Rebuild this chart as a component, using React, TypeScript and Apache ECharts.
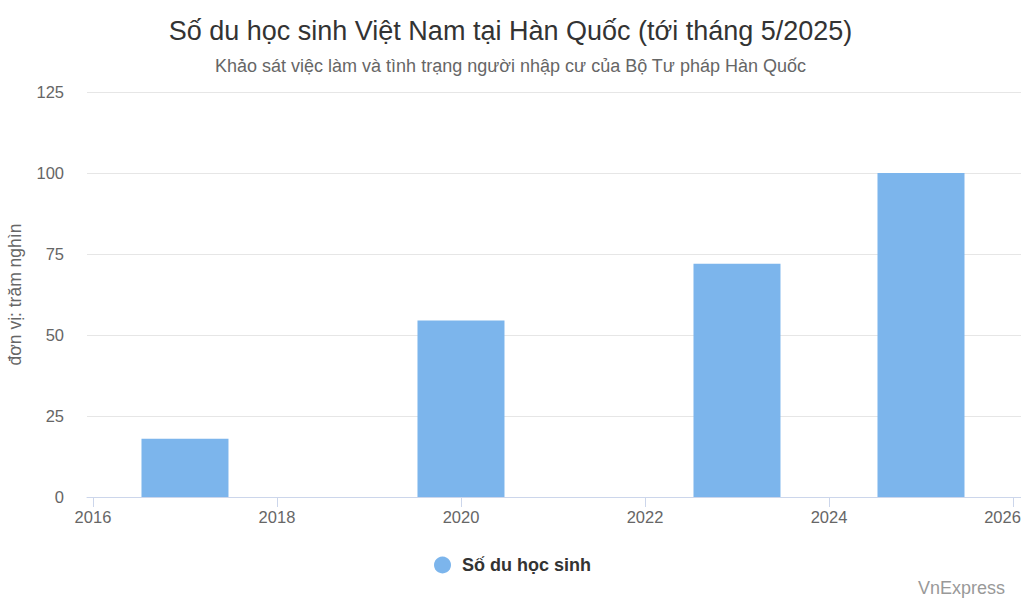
import React, { useEffect, useRef } from "react";
import * as echarts from "echarts";

const years = [2017, 2020, 2023, 2025];
const students = [18, 54.5, 72, 100];
const xTicks = [2016, 2018, 2020, 2022, 2024, 2026];
// the last label is pulled inward to stay inside the chart, as in the reference
const xLabelPositions = [2016, 2018, 2020, 2022, 2024, 2025.886];
const yTicks = [0, 25, 50, 75, 100, 125];

const titleText = "Số du học sinh Việt Nam tại Hàn Quốc (tới tháng 5/2025)";
const subtitleText = "Khảo sát việc làm và tình trạng người nhập cư của Bộ Tư pháp Hàn Quốc";
const seriesName = "Số du học sinh";
const yAxisTitle = "đơn vị: trăm nghìn";
const creditText = "VnExpress";

const FONT = "'Liberation Sans', Arial, Helvetica, sans-serif";

export default function App() {
  const ref = useRef<HTMLDivElement>(null);
  useEffect(() => {
    if (!ref.current) return;
    const chart = echarts.init(ref.current, null, { renderer: "svg" });
    chart.setOption({
      animation: false,
      backgroundColor: "#ffffff",
      textStyle: { fontFamily: FONT },
      title: [
        {
          text: titleText,
          left: "center",
          top: 12,
          textStyle: { fontSize: 27, fontWeight: "normal", color: "#333333", fontFamily: FONT },
        },
        {
          text: subtitleText,
          left: "center",
          top: 52,
          textStyle: { fontSize: 18, fontWeight: "normal", color: "#666666", fontFamily: FONT },
        },
      ],
      legend: {
        left: 429,
        top: 551,
        icon: "circle",
        itemWidth: 17,
        itemHeight: 17,
        itemGap: 10,
        textStyle: {
          fontSize: 18,
          fontWeight: "bold",
          color: "#333333",
          fontFamily: FONT,
          padding: [0, 0, 0, 6],
        },
        data: [seriesName],
      },
      grid: {
        left: 87,
        right: 0,
        top: 92,
        bottom: 105,
        containLabel: false,
        outerBoundsMode: "none",
      },
      xAxis: {
        type: "value",
        min: 2015.935,
        max: 2026.087,
        splitLine: { show: false },
        axisLine: { show: true, lineStyle: { color: "#ccd6eb", width: 1 } },
        axisTick: {
          show: true,
          length: 10,
          inside: false,
          customValues: xTicks,
          lineStyle: { color: "#ccd6eb" },
        },
        axisLabel: {
          customValues: xLabelPositions,
          fontSize: 16.5,
          color: "#666666",
          margin: 11,
          fontFamily: FONT,
          formatter: (v: number) => String(xTicks[xLabelPositions.indexOf(v)] ?? Math.round(v)),
        },
      },
      yAxis: {
        type: "value",
        min: 0,
        max: 125,
        interval: 25,
        name: yAxisTitle,
        nameLocation: "middle",
        nameGap: 63,
        nameRotate: 90,
        nameTextStyle: { fontSize: 17.5, color: "#666666", fontFamily: FONT },
        axisLine: { show: false },
        axisTick: { show: false },
        axisLabel: { fontSize: 16.5, color: "#666666", margin: 23, fontFamily: FONT },
        splitLine: { show: true, lineStyle: { color: "#e6e6e6", width: 1 } },
      },
      series: [
        {
          name: seriesName,
          type: "bar",
          barWidth: 87,
          itemStyle: { color: "#7cb5ec" },
          data: years.map((y, i) => [y, students[i]]),
        },
      ],
      graphic: [
        {
          type: "text",
          right: 16,
          top: 579,
          style: { text: creditText, fontSize: 18, fill: "#999999", fontFamily: FONT },
        },
      ],
    });
    return () => chart.dispose();
  }, []);
  return (
    <div
      ref={ref}
      style={{ position: "fixed", left: 0, top: 0, width: 1021, height: 602, background: "#fff" }}
    />
  );
}
